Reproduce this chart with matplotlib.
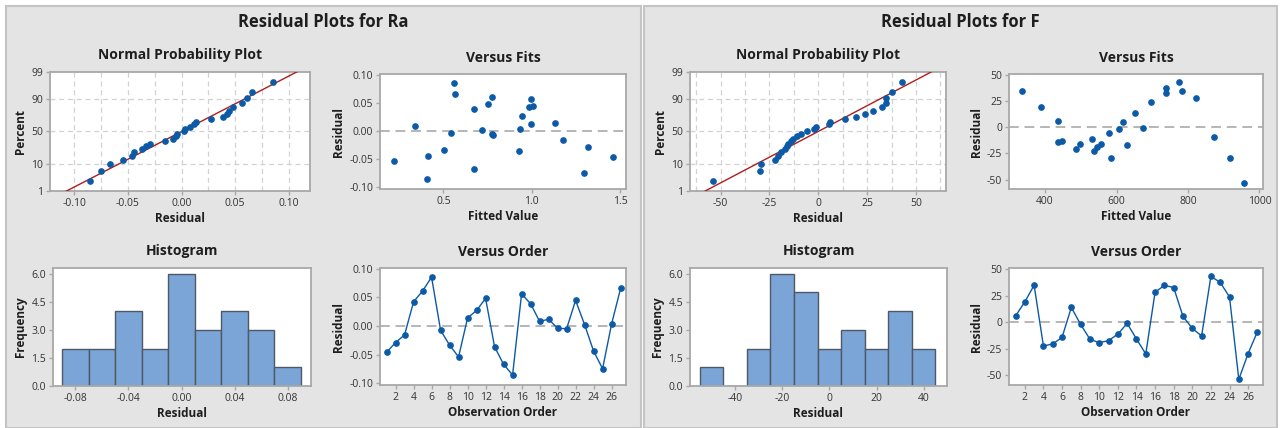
import numpy as np
import matplotlib
matplotlib.use("Agg")
import matplotlib.pyplot as plt
from matplotlib.patches import Rectangle
from statistics import NormalDist

# residuals in observation order, and the matching fitted values
ra_resid = [-0.046, -0.029, -0.0156, 0.042, 0.061, 0.085, -0.0075, -0.0335, -0.054,
            0.0139, 0.027, 0.048, -0.0364, -0.067, -0.0855, 0.056, 0.0387, 0.008,
            0.0116, -0.004, -0.005, 0.0445, 0.0023, -0.044, -0.0746, 0.0035, 0.0653]
ra_fits = [1.462, 1.321, 1.175, 0.983, 0.777, 0.558, 0.783, 0.504, 0.221,
           1.132, 0.945, 0.751, 0.928, 0.672, 0.409, 0.994, 0.672, 0.341,
           0.994, 0.542, 0.775, 1.008, 0.717, 0.415, 1.294, 0.934, 0.566]

f_resid = [5.8, 19.2, 34.8, -22.3, -20.4, -14.2, 13.9, -2.0, -16.0,
           -19.2, -17.3, -11.1, -1.1, -15.7, -29.8, 28.2, 34.7, 32.6,
           5.5, -5.8, -12.9, 43.1, 37.5, 23.8, -53.7, -29.4, -8.9]
f_fits = [437, 388, 335, 537, 486, 437, 652, 606, 498,
          544, 630, 531, 673, 556, 584, 822, 782, 739,
          618, 578, 448, 775, 739, 696, 956, 918, 874]

W, H = 1281, 428
BLUE = "#0c5aa6"
BAR = "#7ba4d7"
SPINE = "#a8a8a8"
TXT = "#1e1e1e"
TICK = "#333333"

plt.rcParams["font.family"] = ["Open Sans", "DejaVu Sans"]

fig = plt.figure(figsize=(W / 100, H / 100), dpi=100)
fig.patch.set_facecolor("white")


def px_axes(left, top, right, bottom):
    return fig.add_axes([left / W, 1 - bottom / H, (right - left) / W, (bottom - top) / H])


def style(ax, title, xlabel, ylabel):
    for s in ax.spines.values():
        s.set_color(SPINE)
        s.set_linewidth(1.3)
    ax.tick_params(direction="out", length=3, width=1, color=SPINE,
                   labelsize=7.5, labelcolor=TICK, pad=2)
    ax.set_title(title, fontsize=10, fontweight="bold", color=TXT, pad=9)
    ax.set_xlabel(xlabel, fontsize=8.5, fontweight="bold", color=TXT, labelpad=2)
    ax.set_ylabel(ylabel, fontsize=8.5, fontweight="bold", color=TXT, labelpad=3)
    ax.set_facecolor("white")


def prob_plot(ax, resid, xlim, xticks, xfmt, grid_step):
    n = len(resid)
    nd = NormalDist()
    x = np.sort(resid)
    ranks = (np.arange(1, n + 1) - 0.3) / (n + 0.4)
    z = np.array([nd.inv_cdf(p) for p in ranks])
    mu, sd = np.mean(resid), np.std(resid, ddof=1)
    zl = np.array([-2.6, 2.6])
    ax.plot(mu + sd * zl, zl, color="#b01c1c", lw=1.0, zorder=3)
    ax.plot(x, z, "o", color=BLUE, ms=3.8, zorder=4)
    pct = [1, 10, 50, 90, 99]
    zt = [nd.inv_cdf(p / 100) for p in pct]
    ax.set_yticks(zt)
    ax.set_yticklabels([str(p) for p in pct])
    ax.set_ylim(nd.inv_cdf(0.0099), nd.inv_cdf(0.99))
    ax.set_xlim(*xlim)
    ax.set_xticks(xticks)
    ax.set_xticklabels([xfmt.format(v) for v in xticks])
    for g in np.arange(xticks[0] - 2 * grid_step, xticks[-1] + 2.01 * grid_step, grid_step):
        if xlim[0] < g < xlim[1]:
            ax.axvline(g, color="#d2d2d2", lw=0.9, ls=(0, (4, 3)), zorder=1)
    for g in zt[1:-1]:
        ax.axhline(g, color="#d2d2d2", lw=0.9, ls=(0, (4, 3)), zorder=1)


def zero_line(ax):
    ax.axhline(0, color="#b5b5b5", lw=1.4, ls=(0, (5, 3)), zorder=1)


def panel(x0, x1, name, resid, fits, cfg):
    fig.patches.append(Rectangle((x0 / W, 0), (x1 - x0) / W, 1 - 6 / H,
                                 transform=fig.transFigure, facecolor="#e4e4e4",
                                 edgecolor="#c4c4c4", lw=1.5, zorder=-5))
    fig.text((x0 + x1) / 2 / W, 1 - 22 / H, "Residual Plots for " + name,
             ha="center", va="center", fontsize=12, fontweight="bold", color=TXT)
    o = x0 - 6

    # normal probability plot
    ax = px_axes(o + cfg["pl"], 72, o + cfg["pr"], 191)
    prob_plot(ax, resid, cfg["px"], cfg["pticks"], cfg["fmt"], cfg["pgrid"])
    style(ax, "Normal Probability Plot", "Residual", "Percent")

    # versus fits
    ax = px_axes(o + cfg["fl"], 74, o + cfg["fr"], 189)
    zero_line(ax)
    ax.plot(fits, resid, "o", color=BLUE, ms=3.8, zorder=3)
    ax.set_xlim(*cfg["fx"])
    ax.set_xticks(cfg["fticks"])
    ax.set_xticklabels([cfg["ffmt"].format(v) for v in cfg["fticks"]])
    ax.set_ylim(*cfg["ry"])
    ax.set_yticks(cfg["rticks"])
    ax.set_yticklabels([cfg["fmt"].format(v) for v in cfg["rticks"]])
    style(ax, "Versus Fits", "Fitted Value", "Residual")

    # histogram
    ax = px_axes(o + cfg["hl"], 268, o + cfg["hr"], 386)
    ax.hist(resid, bins=cfg["bins"], color=BAR, edgecolor="#4f5965", lw=1.0, zorder=2)
    ax.set_xlim(*cfg["hx"])
    ax.set_xticks(cfg["hticks"])
    ax.set_xticklabels([cfg["hfmt"].format(v) for v in cfg["hticks"]])
    ax.set_ylim(0, 6.3)
    ax.set_yticks([0, 1.5, 3.0, 4.5, 6.0])
    ax.set_yticklabels(["0.0", "1.5", "3.0", "4.5", "6.0"])
    style(ax, "Histogram", "Residual", "Frequency")

    # versus order
    order = np.arange(1, len(resid) + 1)
    ax = px_axes(o + cfg["fl"], 268, o + cfg["fr"], 385)
    zero_line(ax)
    ax.plot(order, resid, "-o", color=BLUE, lw=1.0, ms=3.8, zorder=3)
    ax.set_xlim(cfg["ox"][0], cfg["ox"][1])
    ax.set_xticks(np.arange(2, 27, 2))
    ax.set_ylim(*cfg["ry"])
    ax.set_yticks(cfg["rticks"])
    ax.set_yticklabels([cfg["fmt"].format(v) for v in cfg["rticks"]])
    style(ax, "Versus Order", "Observation Order", "Residual")


ra_cfg = dict(pl=50, pr=310, px=(-0.1224, 0.1196), pticks=[-0.10, -0.05, 0.0, 0.05, 0.10],
              fmt="{:.2f}", pgrid=0.025, fl=380, fr=626, fx=(0.141, 1.534),
              fticks=[0.5, 1.0, 1.5], ffmt="{:.1f}", ry=(-0.103, 0.101),
              rticks=[-0.10, -0.05, 0.0, 0.05, 0.10], hl=53, hr=311,
              bins=np.linspace(-0.09, 0.09, 10), hx=(-0.0969, 0.0976),
              hticks=[-0.08, -0.04, 0.0, 0.04, 0.08], hfmt="{:.2f}", ox=(0.27, 27.6))
f_cfg = dict(pl=52, pr=308, px=(-65.7, 65.4), pticks=[-50, -25, 0, 25, 50], fmt="{:.0f}",
             pgrid=12.5, fl=371, fr=625, fx=(299, 1010), fticks=[400, 600, 800, 1000],
             ffmt="{:.0f}", ry=(-59, 51), rticks=[-50, -25, 0, 25, 50],
             hl=52, hr=309, bins=np.arange(-55, 46, 10), hx=(-59.1, 49.9),
             hticks=[-40, -20, 0, 20, 40], hfmt="{:.0f}", ox=(0.3, 27.6))

panel(6, 641, "Ra", ra_resid, ra_fits, ra_cfg)
panel(644, 1277, "F", f_resid, f_fits, f_cfg)

fig.savefig("out.png", dpi=100, facecolor="white")
